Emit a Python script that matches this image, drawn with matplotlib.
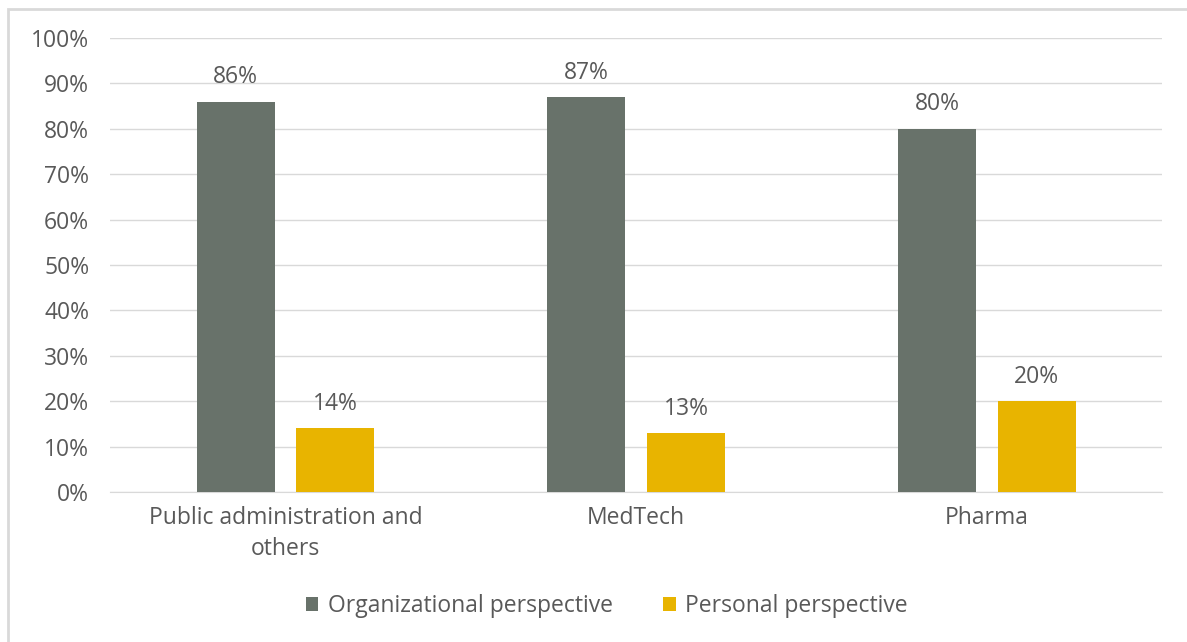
import numpy as np
import matplotlib.pyplot as plt
from matplotlib.patches import Rectangle

categories = ["Public administration and\nothers", "MedTech", "Pharma"]
organizational = [86, 87, 80]
personal = [14, 13, 20]
series_names = ["Organizational perspective", "Personal perspective"]

dark = "#68726a"
gold = "#e8b400"
txt = "#595959"

plt.rcParams['font.family'] = ['Open Sans', 'DejaVu Sans']
fs = 16.5

fig = plt.figure(figsize=(11.87, 6.42), dpi=100)
ax = fig.add_axes([0.0927, 0.2336, 0.8865, 0.7072])

x = np.arange(len(categories))
w = 0.222
off = 0.142
b1 = ax.bar(x - off, organizational, w, color=dark, zorder=3, label=series_names[0])
b2 = ax.bar(x + off, personal, w, color=gold, zorder=3, label=series_names[1])

for bars, vals in [(b1, organizational), (b2, personal)]:
    for b, v in zip(bars, vals):
        ax.annotate(f"{v}%", (b.get_x() + b.get_width() / 2, v),
                    xytext=(0, 9), textcoords="offset points",
                    ha="center", va="bottom", fontsize=fs, color=txt)

ax.set_xlim(-0.5, 2.5)
ax.set_ylim(0, 100)
ax.set_yticks(range(0, 101, 10))
ax.set_yticklabels([f"{t}%" for t in range(0, 101, 10)])
ax.set_xticks(x)
ax.set_xticklabels(categories, linespacing=1.4)
ax.grid(axis="y", color="#d9d9d9", linewidth=1, zorder=0)
for s in ["top", "right", "left"]:
    ax.spines[s].set_visible(False)
ax.spines["bottom"].set_color("#d9d9d9")
ax.tick_params(length=0, labelsize=fs, labelcolor=txt)
ax.tick_params(axis="y", pad=15)
ax.tick_params(axis="x", pad=10)

leg = fig.legend(handles=[b1, b2], loc="center", bbox_to_anchor=(0.511, 0.056),
                 ncol=2, frameon=False, fontsize=fs, handlelength=0.55,
                 handleheight=0.55, columnspacing=2.2, handletextpad=0.4)
for t in leg.get_texts():
    t.set_color(txt)

# outer frame
fig.patches.append(Rectangle((0.0067, -0.01), 1.2, 0.9965, transform=fig.transFigure,
                             fill=False, edgecolor="#d9d9d9", linewidth=2))

fig.savefig("out.png", dpi=100)
